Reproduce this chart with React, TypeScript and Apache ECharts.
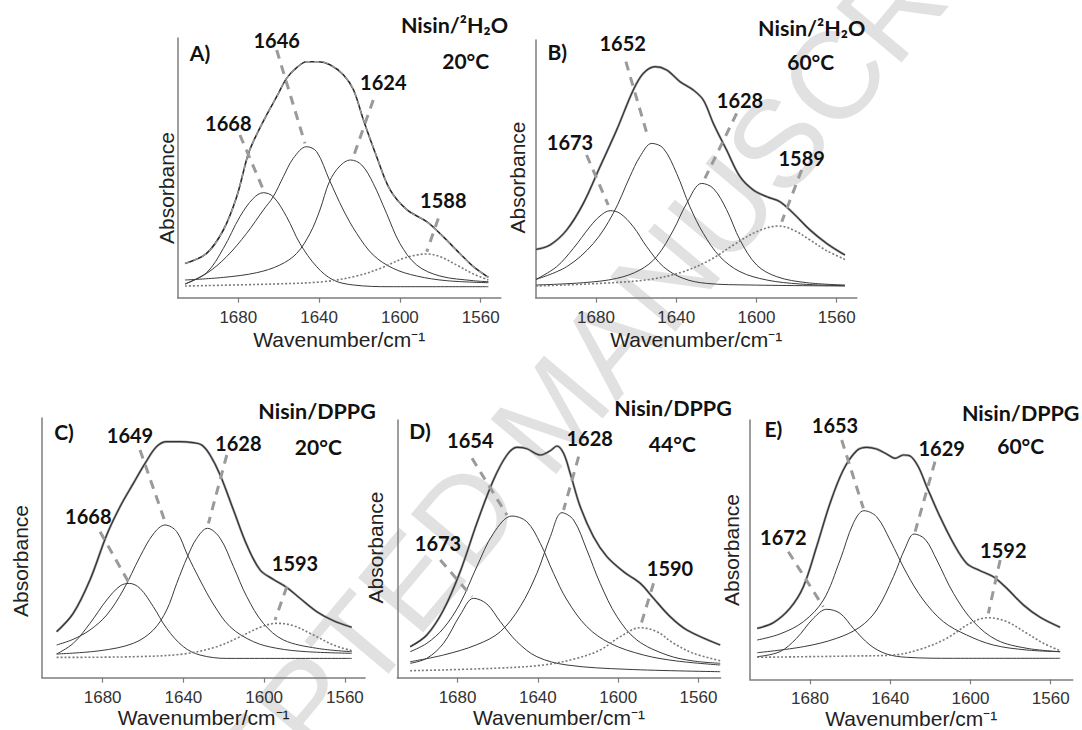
import React, { useEffect, useRef } from "react";
import * as echarts from "echarts";

// ---------- data (wavenumber cm-1, absorbance arb. units) ----------
const X_TICKS = [1560, 1600, 1640, 1680];

// Panel A: Nisin/2H2O 20 °C
const A_ENV = [[1706.4,34.3],[1695.7,44.3],[1687.4,67.7],[1680.8,101],[1675.5,141],[1672.6,156],[1666,182.7],[1661,201],[1656.1,219.3],[1651.1,230],[1646.2,236],[1640.3,236],[1634.6,233],[1628,223],[1623,208],[1618.1,178],[1611.5,141],[1604.9,108],[1596.6,88],[1586.7,76],[1580.1,64],[1570.2,44],[1563.6,31],[1556.2,20.3]];
const A_1668 = [[1706.4,13.7],[1695.7,25],[1687.4,49.3],[1679.2,81],[1672.6,99.3],[1667.6,105],[1662.7,101],[1656.1,81],[1649.5,54.3],[1641.2,31],[1633,17.7],[1623,12.7],[1604.9,11],[1556.2,11]];
const A_1646 = [[1706.4,13.7],[1695.7,24.3],[1685.8,41],[1675.9,64.3],[1667.6,87.7],[1662.7,101],[1657.7,121],[1652.8,139.3],[1646.2,151],[1641.2,146],[1634.9,117.7],[1628,87.7],[1621.4,64.3],[1613.2,42.7],[1603.3,29.3],[1591.7,21.7],[1576.8,17],[1556.2,15]];
const A_1624 = [[1706.4,17.7],[1687.4,20.3],[1670.9,25],[1659.4,32.7],[1651.1,44.3],[1644.5,64.3],[1639.6,87.7],[1634.9,116],[1629.7,131.7],[1624.4,137.7],[1618.9,132.7],[1613.2,114.3],[1606.6,84.3],[1600,54.3],[1591.7,32.7],[1580.2,21.7],[1563.6,17],[1556.2,16]];
const A_1588 = [[1706.4,11.7],[1662.7,13.7],[1637.9,16],[1621.4,21.7],[1609.8,29.3],[1598.3,39.3],[1591.7,42.7],[1586.7,43.7],[1580.1,41],[1571.9,32.7],[1563.6,23.7],[1556.2,17.7]];
const A_GUIDES = [[1679.2,162.7,1667.6,108],[1661,247.7,1647,154.3],[1613.2,197.7,1623,141],[1581,79.3,1586.7,46]];

// Panel B: Nisin/2H2O 60 °C
const B_ENV = [[1709.9,48.3],[1702.9,52.7],[1694.6,67.7],[1686.3,94.3],[1678,131],[1669.7,167.7],[1661.4,207.7],[1656.4,224.3],[1650.6,231],[1644.8,227.7],[1638.1,216],[1631.5,207.7],[1626.5,197.7],[1621.5,174.3],[1614.9,147.7],[1608.2,121],[1601.6,107.7],[1594.9,101],[1588.3,96],[1581.6,84.3],[1573.3,67.7],[1565,54.3],[1555.9,42.7]];
const B_1673 = [[1709.9,18.3],[1699.6,31],[1691.3,49.3],[1683,71],[1678,81.7],[1673,87],[1668,84.3],[1661.4,71],[1654.7,51],[1646.4,31],[1636.5,19.3],[1624.8,14.3],[1603.2,12.7],[1555.9,11.7]];
const B_1652 = [[1709.9,18.3],[1694.6,31],[1681.3,54.3],[1671.4,84.3],[1663.1,121],[1658.1,141],[1652.2,154.3],[1646.4,149.3],[1639.8,124.3],[1633.2,91],[1626.5,64.3],[1618.2,41],[1608.2,26],[1594.9,17.7],[1578.3,13.7],[1555.9,12]];
const B_1628 = [[1709.9,12.7],[1686.3,15],[1669.7,19.3],[1658.1,27.7],[1649.8,41],[1641.4,67.7],[1634.8,94.3],[1627.3,114.3],[1621.5,109.3],[1614.9,88],[1608.2,57.7],[1599.9,32.7],[1589.9,21],[1574.9,15],[1555.9,12.7]];
const B_1589 = [[1709.9,11.7],[1678,14.3],[1653.1,18.3],[1636.5,26],[1623.2,37.7],[1611.5,52.7],[1599.9,66],[1589.1,71.7],[1581.6,67.7],[1573.3,57.7],[1565,47],[1555.9,38.3]];
const B_GUIDES = [[1684.7,142.7,1673.9,92.7],[1665.1,236,1653.9,159.3],[1609.9,184.3,1625.7,119.3],[1577.5,127.7,1587.4,76]];

// Panel C: Nisin/DPPG 20 °C
const C_ENV = [[1702.8,46],[1694.6,64.3],[1686.3,97.7],[1678,142.7],[1671.4,171],[1664.8,194.3],[1659,214.3],[1653.3,231],[1648.3,236],[1641.7,236],[1635.1,235],[1630.9,232.7],[1626.8,222.7],[1621.8,202.7],[1615.2,167.7],[1608.6,132.7],[1602,107.7],[1595.4,98.3],[1588.8,90.3],[1582.2,79.3],[1573.9,66],[1565.7,57],[1556.6,50.4]];
const C_1668 = [[1702.8,23.7],[1694.6,34.3],[1686.3,54.3],[1678,77.7],[1671.4,91.7],[1666.8,94.3],[1661.5,89.3],[1654.9,71],[1648.3,49.3],[1640,31],[1631.8,22.7],[1618.5,19.3],[1556.6,19.3]];
const C_1649 = [[1702.8,32.7],[1694.6,38.4],[1686.3,47.7],[1678,62.7],[1669.8,87.7],[1661.5,121],[1654.9,143.7],[1649.1,152.7],[1643.3,146],[1638,122.7],[1631.8,97.7],[1625.2,73.7],[1616.9,51],[1605.3,36],[1593.7,29.4],[1578.9,26],[1556.6,24.4]];
const C_1628 = [[1702.8,23.7],[1681.3,27],[1664.8,34.4],[1654.9,47.7],[1648.3,67.7],[1643.3,94.4],[1638,121],[1633.4,139.4],[1628.1,149.4],[1621.8,139.4],[1615.2,111],[1608.6,81],[1600.4,54.4],[1590.4,37.7],[1573.9,29.4],[1556.6,26]];
const C_1593 = [[1702.8,20.3],[1664.8,21],[1640,23.7],[1623.5,31],[1611.9,41],[1602,50.4],[1593.7,54.4],[1585.5,52],[1575.6,42.7],[1565.7,32.7],[1556.6,27]];
const C_GUIDES = [[1681.3,146,1667.3,96],[1661.5,227.7,1649.1,156],[1618.5,222.7,1627.6,154.4],[1588.8,91,1594.6,57.7]];

// Panel D: Nisin/DPPG 44 °C
const D_ENV = [[1703.6,31],[1695.3,42.7],[1687,67.7],[1678.7,106],[1670.4,154.4],[1662.1,197.7],[1655.4,222.7],[1650.4,230.4],[1645.5,229],[1638.8,222.7],[1633.8,227],[1630.5,231.7],[1627.2,224.4],[1623.9,204.4],[1618.9,171],[1612.3,141],[1605.6,121],[1597.3,106],[1589,94.4],[1582.4,79.4],[1574.1,61],[1565.8,47.7],[1549.2,32.7]];
const D_1673 = [[1703.6,14.4],[1695.3,19.4],[1687,34.4],[1678.7,62.7],[1672,79.4],[1665.4,73.7],[1658.7,56],[1650.4,36],[1640.5,21],[1625.5,12.7],[1595.7,8.4],[1549.2,6]];
const D_1654 = [[1703.6,26],[1695.3,34.4],[1687,49.4],[1678.7,74.4],[1670.4,111],[1662.1,144.4],[1652.9,161.7],[1645.5,156],[1638.8,134.4],[1632.2,104.4],[1625.5,77.7],[1615.6,51],[1604,34.4],[1587.4,22.7],[1570.8,16.7],[1549.2,12.7]];
const D_1628 = [[1703.6,16],[1687,22.7],[1670.4,33],[1658.7,46],[1648.8,71],[1640.5,104.4],[1633.8,141],[1628,165],[1622.2,157.7],[1615.6,127.7],[1609,94.4],[1600.6,61],[1590.7,37.7],[1575.7,22.7],[1562.5,16.7],[1549.2,14.4]];
const D_1590 = [[1703.6,7],[1662.1,9.4],[1637.2,12.7],[1620.6,19.4],[1609,27.7],[1599,41],[1589,50],[1580.7,46],[1572.4,34.4],[1562.5,24.4],[1549.2,17]];
const D_GUIDES = [[1688.6,117.7,1672.8,81],[1672.8,219.4,1655.4,162.7],[1619.7,221,1627.2,167.7],[1582.4,94.4,1589,51]];

// Panel E: Nisin/DPPG 60 °C
const E_ENV = [[1706.3,51],[1698.3,56.6],[1690,71],[1683.3,92.6],[1676.7,132.6],[1670,176],[1663.4,209.3],[1656.7,228.6],[1651.7,232],[1646.8,230.3],[1641.8,225.3],[1637.6,221],[1633.5,224.3],[1630.1,223.3],[1626,212.6],[1621.8,192.6],[1615.2,162.6],[1608.5,136],[1601.9,116],[1595.2,108.6],[1588.6,102.6],[1581.9,91],[1573.6,74.3],[1565.3,62],[1555.3,52]];
const E_1672 = [[1706.3,22.6],[1695,27.6],[1686.7,41],[1678.3,61],[1671.7,70],[1665,66],[1658.4,51],[1650.1,34.3],[1641.8,25.3],[1631.8,22],[1608.5,21],[1555.3,21]];
const E_1653 = [[1706.3,39.3],[1695,45.3],[1683.3,57.6],[1673.3,79.3],[1665,119.3],[1658.4,156],[1653.1,168.6],[1646.8,162.6],[1640.1,139.3],[1631.8,106],[1623.5,79.3],[1613.5,57.6],[1601.9,44.3],[1588.6,34.3],[1571.9,29.3],[1555.3,27.6]];
const E_1629 = [[1706.3,26.6],[1683.3,32.6],[1666.7,41],[1655.1,52.3],[1646.8,69.3],[1638.4,102.6],[1632.6,131],[1628.1,145.3],[1622.6,140],[1616.8,119.3],[1608.5,86],[1598.5,57.6],[1586.9,39.3],[1571.9,31],[1555.3,27.6]];
const E_1592 = [[1706.3,22],[1658.4,23.3],[1638.4,24.3],[1625.1,30],[1611.8,41],[1600.2,56],[1591.1,61.6],[1581.9,57.6],[1571.9,46],[1563.6,36],[1555.3,28.6]];
const E_GUIDES = [[1690.8,127.6,1673.4,72.6],[1664.2,239.3,1653.4,171],[1617.7,217.6,1627.6,147.6],[1585.2,119.3,1591.1,66]];

// Texts
const PEAK_LABELS = [
  ["1646", "1668", "1624", "1588"],
  ["1652", "1673", "1628", "1589"],
  ["1649", "1668", "1628", "1593"],
  ["1654", "1673", "1628", "1590"],
  ["1653", "1672", "1629", "1592"],
];
const PANEL_LETTERS = ["A)", "B)", "C)", "D)", "E)"];
const SAMPLES = ["Nisin/²H₂O", "Nisin/²H₂O", "Nisin/DPPG", "Nisin/DPPG", "Nisin/DPPG"];
const TEMPS = ["20°C", "60°C", "20°C", "44°C", "60°C"];

// ---------- layout ----------
const GRIDS = [
  { left: 177.7, top: 38, width: 323.2, height: 259.7, min: 1550, ymax: 259.7, nameGap: 31 },
  { left: 535.8, top: 40, width: 321, height: 257.7, min: 1550, ymax: 257.7, nameGap: 31 },
  { left: 42.1, top: 418, width: 323, height: 259.7, min: 1550, ymax: 259.7, nameGap: 29 },
  { left: 397.3, top: 420, width: 323.3, height: 257.7, min: 1549, ymax: 257.7, nameGap: 29 },
  { left: 749.8, top: 420, width: 323, height: 259.3, min: 1549, ymax: 259.3, nameGap: 28 },
];
const TEXT_POS = [
  { letter: [200, 52.7], sample: [454.5, 25], temp: [465.7, 60], peaks: [[276.7, 40], [228.3, 123.3], [383.3, 81.7], [443.3, 200]], abs: [166.7, 188] },
  { letter: [557.3, 51.7], sample: [811.7, 28.3], temp: [810.7, 61.7], peaks: [[622.7, 43.3], [570, 141.7], [740, 100], [801.7, 158.3]], abs: [517.2, 177.5] },
  { letter: [64, 431.7], sample: [317, 411], temp: [318.3, 446.7], peaks: [[130, 435], [88.3, 516], [238.3, 443.3], [295, 563.3]], abs: [20, 561] },
  { letter: [420, 430], sample: [673, 408], temp: [672.3, 443.3], peaks: [[470.3, 440], [438, 543.3], [589.7, 438.3], [670, 568.3]], abs: [375, 547.5] },
  { letter: [773.3, 428.3], sample: [1020.7, 413.3], temp: [1020.7, 445], peaks: [[835, 425], [783.3, 536.7], [941.7, 448.3], [1003.3, 550]], abs: [731.7, 550] },
];

const PANELS = [
  { env: A_ENV, bands: [A_1668, A_1646, A_1624], minor: A_1588, guides: A_GUIDES, dashedFit: true },
  { env: B_ENV, bands: [B_1673, B_1652, B_1628], minor: B_1589, guides: B_GUIDES, dashedFit: false },
  { env: C_ENV, bands: [C_1668, C_1649, C_1628], minor: C_1593, guides: C_GUIDES, dashedFit: false },
  { env: D_ENV, bands: [D_1673, D_1654, D_1628], minor: D_1590, guides: D_GUIDES, dashedFit: false },
  { env: E_ENV, bands: [E_1672, E_1653, E_1629], minor: E_1592, guides: E_GUIDES, dashedFit: false },
];

const AXIS_COLOR = "#7d7d7d";
const SANS = "'Liberation Sans', Arial, sans-serif";
const BOLD = "Lato, 'Liberation Sans', sans-serif";

function buildOption() {
  const grid: any[] = [];
  const xAxis: any[] = [];
  const yAxis: any[] = [];
  const series: any[] = [];
  const graphic: any[] = [];

  // watermark
  graphic.push({
    type: "text",
    x: 552,
    y: 412,
    rotation: (50 * Math.PI) / 180,
    z: 0,
    silent: true,
    style: {
      text: "ACCEPTED MANUSCRIPT",
      fontSize: 124,
      fontFamily: SANS,
      fill: "#e1e1e1",
      align: "center",
      verticalAlign: "middle",
    },
  });

  PANELS.forEach((p, i) => {
    const g = GRIDS[i];
    grid.push({ left: g.left, top: g.top, width: g.width, height: g.height, containLabel: false, outerBoundsMode: "none" });
    xAxis.push({
      type: "value",
      gridIndex: i,
      inverse: true,
      min: g.min,
      max: 1710,
      axisLine: { show: true, onZero: false, lineStyle: { color: AXIS_COLOR, width: 1.5 } },
      axisTick: { show: true, customValues: X_TICKS, length: 5, lineStyle: { color: AXIS_COLOR, width: 1.2 } },
      axisLabel: {
        customValues: X_TICKS,
        fontSize: 17,
        color: "#333",
        margin: 11,
        fontFamily: SANS,
        formatter: (v: number) => String(Math.round(v)),
      },
      splitLine: { show: false },
      name: "Wavenumber/cm⁻¹",
      nameLocation: "middle",
      nameGap: g.nameGap,
      nameTextStyle: { fontSize: 21, color: "#222", fontFamily: SANS },
    });
    yAxis.push({
      type: "value",
      gridIndex: i,
      min: 0,
      max: g.ymax,
      axisLine: { show: true, onZero: false, lineStyle: { color: AXIS_COLOR, width: 1.5 } },
      axisTick: { show: false },
      axisLabel: { show: false },
      splitLine: { show: false },
    });

    const common = { type: "line", xAxisIndex: i, yAxisIndex: i, showSymbol: false, silent: true, smooth: 0.35 };

    p.bands.forEach((b) => {
      series.push({ ...common, data: b, lineStyle: { color: "#3a3a3a", width: 1 }, z: 3 });
    });
    series.push({ ...common, data: p.minor, lineStyle: { color: "#7a7a7a", width: 1.6, type: [2, 2] }, z: 3 });

    if (p.dashedFit) {
      series.push({ ...common, data: p.env, lineStyle: { color: "#2a2a2a", width: 1.6 }, z: 4 });
      series.push({ ...common, data: p.env, lineStyle: { color: "#9a9a9a", width: 1.4, type: [5, 4] }, z: 5 });
    } else {
      series.push({ ...common, data: p.env, lineStyle: { color: "#a2a2a2", width: 2.4 }, z: 4 });
      series.push({ ...common, data: p.env, lineStyle: { color: "#262626", width: 1.2, opacity: 0.9 }, z: 5 });
    }

    p.guides.forEach((gd) => {
      series.push({
        type: "line",
        xAxisIndex: i,
        yAxisIndex: i,
        showSymbol: false,
        silent: true,
        data: [[gd[0], gd[1]], [gd[2], gd[3]]],
        lineStyle: { color: "#9a9a9a", width: 3, type: [9, 7] },
        z: 6,
      });
    });

    const tp = TEXT_POS[i];
    const boldText = (text: string, pos: number[], size: number) => ({
      type: "text",
      x: pos[0],
      y: pos[1],
      z: 10,
      silent: true,
      style: { text, fontSize: size, fontWeight: "bold", fontFamily: BOLD, fill: "#111", align: "center", verticalAlign: "middle" },
    });
    graphic.push(boldText(PANEL_LETTERS[i], tp.letter, 21));
    graphic.push(boldText(SAMPLES[i], tp.sample, 21.5));
    graphic.push(boldText(TEMPS[i], tp.temp, 21));
    PEAK_LABELS[i].forEach((lab, k) => graphic.push(boldText(lab, tp.peaks[k], 20)));
    graphic.push({
      type: "text",
      x: tp.abs[0],
      y: tp.abs[1],
      rotation: Math.PI / 2,
      z: 10,
      silent: true,
      style: { text: "Absorbance", fontSize: 21, fontFamily: SANS, fill: "#222", align: "center", verticalAlign: "middle" },
    });
  });

  return {
    animation: false,
    backgroundColor: "#ffffff",
    grid,
    xAxis,
    yAxis,
    series,
    graphic,
  };
}

export default function App() {
  const ref = useRef<HTMLDivElement>(null);
  useEffect(() => {
    if (!ref.current) return;
    const chart = echarts.init(ref.current, undefined, { renderer: "svg" });
    chart.setOption(buildOption() as any);
    return () => chart.dispose();
  }, []);
  return (
    <div
      ref={ref}
      style={{ position: "absolute", left: 0, top: 0, width: 1082, height: 730, background: "#fff" }}
    />
  );
}
